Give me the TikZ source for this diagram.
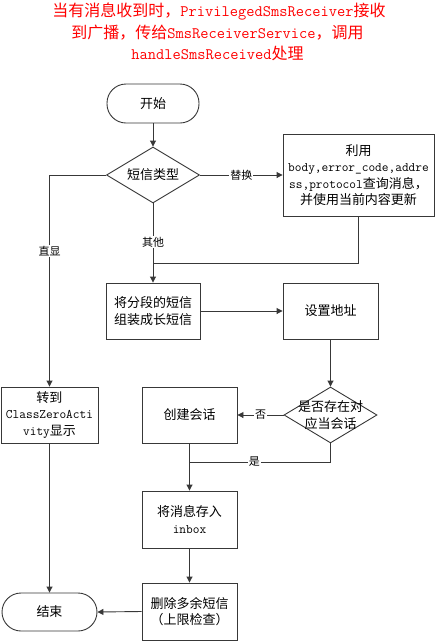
\documentclass[tikz,border=0pt]{standalone}
\usepackage{fontspec}
\newfontfamily\cjk{Noto Sans CJK SC}
\usetikzlibrary{shapes.geometric,arrows.meta}
\newcommand\zh[1]{{\cjk #1}}
\begin{document}
\begin{tikzpicture}[x=1pt,y=-1pt,
  line/.style={draw=black!78,line width=0.9pt},
  arr/.style={line,-{Triangle[length=6pt,width=6pt]}},
  boxnode/.style={line,rectangle,inner sep=0pt,align=center,
    font=\ttfamily\fontsize{13}{16.5}\selectfont},
  term/.style={line,rectangle,rounded corners=19pt,inner sep=0pt,
    font=\ttfamily\fontsize{13}{16.5}\selectfont},
  dia/.style={line,diamond,inner sep=0pt,minimum width=93pt,minimum height=56pt},
  diatext/.style={align=center,inner sep=0pt,font=\ttfamily\fontsize{13}{16.5}\selectfont},
  lbl/.style={fill=white,inner sep=1pt,font=\fontsize{11}{12}\selectfont\cjk},
  title/.style={text=red,inner sep=0pt,font=\ttfamily\fontsize{16}{20}\selectfont}]
\useasboundingbox[fill=white] (0,0) rectangle (435,641);

\node[title] (t1) at (219,12) {\zh{当有消息收到时，}PrivilegedSmsReceiver\zh{接收}};
\node[title] (t2) at (217.5,33) {\zh{到广播，传给}SmsReceiverService\zh{，调用}};
\node[title] (t3) at (217.5,53) {handleSmsReceived\zh{处理}};

\node[term,minimum width=92pt,minimum height=39pt] (start) at (153,103.5) {\zh{开始}};
\node[dia] (d1) at (153,175) {};
\node[diatext] (d1t) at (d1) {\zh{短信类型}};
\node[boxnode,minimum width=151pt,minimum height=82pt] (b1) at (358.5,175)
  {\zh{利用}\\body,error\_code,addre\\ss,protocol\zh{查询消息，}\\\zh{并使用当前内容更新}};
\node[boxnode,minimum width=94pt,minimum height=56pt] (b2) at (153,311)
  {\zh{将分段的短信}\\\zh{组装成长短信}};
\node[boxnode,minimum width=95pt,minimum height=56pt] (b3) at (330.5,311) {\zh{设置地址}};
\node[dia] (d2) at (330.5,415) {};
\node[diatext] (d2t) at (d2) {\zh{是否存在对}\\\zh{应当会话}};
\node[boxnode,minimum width=95pt,minimum height=56pt] (cs) at (189.5,415) {\zh{创建会话}};
\node[boxnode,minimum width=97pt,minimum height=56pt] (cz) at (49.5,415)
  {\zh{转到}\\ClassZeroActi\\vity\zh{显示}};
\node[boxnode,minimum width=95pt,minimum height=57pt] (ib) at (189.5,519.5)
  {\zh{将消息存入}\\inbox};
\node[boxnode,minimum width=95pt,minimum height=57pt] (del) at (189.5,611.5)
  {\zh{删除多余短信}\\\zh{（上限检查）}};
\node[term,minimum width=95pt,minimum height=38pt] (end) at (49.5,612) {\zh{结束}};

\coordinate (m1) at (153,263);
\coordinate (m2) at (189.5,462);

\draw[arr] (start) -- (d1);
\draw[arr] (d1.east) -- node[lbl] {替换} (b1.west);
\draw[arr] (d1.south) -- node[lbl,pos=0.49] {其他} (b2.north);
\draw[line] (b1.south) |- (m1);
\draw[arr] (d1.west) -| node[lbl,pos=0.68] {直显} (cz.north);
\draw[arr] (b2.east) -- (b3.west);
\draw[arr] (b3.south) -- (d2.north);
\draw[arr] (d2.west) -- node[lbl] {否} (cs.east);
\draw[line] (d2.south) |- node[lbl,pos=0.77] {是} (m2);
\draw[arr] (cs.south) -- (ib.north);
\draw[arr] (ib.south) -- (del.north);
\draw[arr] (del.west) -- (end.east);
\draw[arr] (cz.south) -- (end.north);
\end{tikzpicture}
\end{document}
